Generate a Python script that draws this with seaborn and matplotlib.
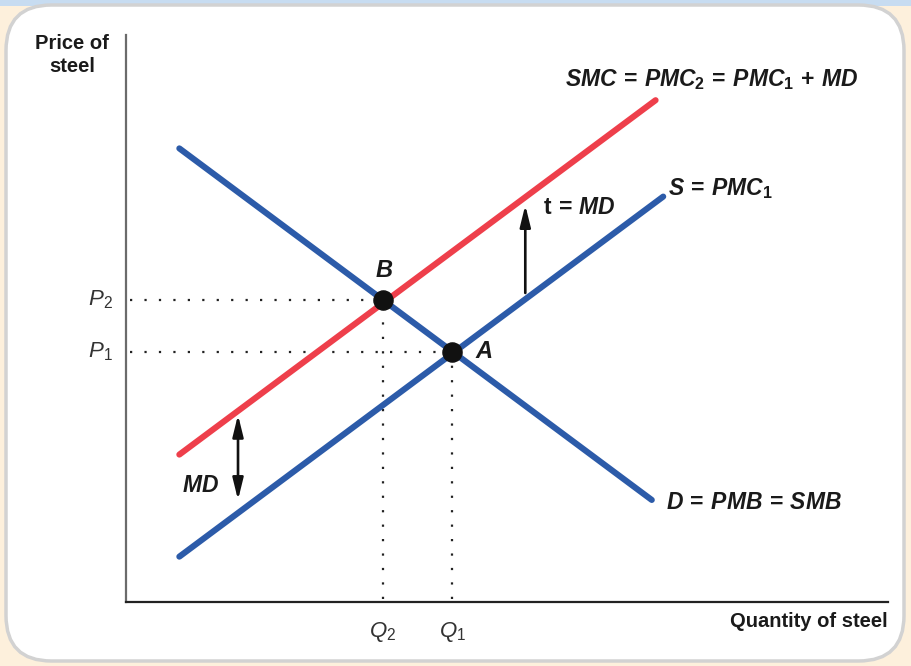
import matplotlib
matplotlib.use('Agg')
import matplotlib.pyplot as plt
from matplotlib.patches import FancyBboxPatch, Rectangle
import seaborn as sns

sns.set_style('white')
plt.rcParams['font.family'] = ['Liberation Sans', 'DejaVu Sans']
plt.rcParams['mathtext.fontset'] = 'custom'
plt.rcParams['mathtext.it'] = 'Liberation Sans:italic:bold'
plt.rcParams['mathtext.rm'] = 'Liberation Sans:bold'
plt.rcParams['mathtext.bf'] = 'Liberation Sans:bold'
plt.rcParams['mathtext.sf'] = 'Liberation Sans:italic'
plt.rcParams['mathtext.tt'] = 'Liberation Sans'

# curves (x from left end to right end)
demand_x = [0.7, 6.9]
demand_y = [8.0, 1.8]
supply_x = [0.7, 7.05]
supply_y = [0.8, 7.15]
smc_x = [0.7, 6.95]
smc_y = [2.6, 8.85]

# equilibria
eq_names = ['A', 'B']
eq_q = [4.28, 3.37]
eq_p = [4.41, 5.33]

# tax arrow and MD arrow
tax_x = 5.24
tax_y = [5.45, 7.0]
md_x = 1.47
md_y = [1.8, 3.3]

BLUE = '#2c5ba9'
RED = '#ee3f4b'

fig = plt.figure(figsize=(9.11, 6.66), dpi=100)
fig.patch.set_facecolor('#fdf0dc')
fig.patches.append(Rectangle((0, 1 - 6 / 666), 1, 6 / 666, transform=fig.transFigure,
                             facecolor='#c7dcf1', edgecolor='none', zorder=0))
fig.patches.append(FancyBboxPatch((6 / 911, 5 / 666), 898 / 911, 656 / 666,
                                  boxstyle='round,pad=0,rounding_size=0.05',
                                  transform=fig.transFigure, facecolor='white',
                                  edgecolor='#d2d2d2', linewidth=2.5, zorder=0.5,
                                  mutation_aspect=911 / 666))

ax = fig.add_axes([126 / 911, 64 / 666, 762 / 911, 567 / 666])
ax.set_zorder(2)
ax.set_facecolor('none')
ax.set_xlim(0, 10)
ax.set_ylim(0, 10)
ax.set_xticks([])
ax.set_yticks([])
for s in ['top', 'right']:
    ax.spines[s].set_visible(False)
ax.spines['left'].set_color('#6b6b6b')
ax.spines['left'].set_linewidth(1.6)
ax.spines['bottom'].set_color('#222222')
ax.spines['bottom'].set_linewidth(1.6)

# dotted guides
dot = (0, (1, 5.5))
for q, p in zip(eq_q, eq_p):
    ax.plot([0.05, q], [p, p], color='#222222', lw=1.6, linestyle=dot, zorder=2)
    ax.plot([q, q], [0.05, p], color='#222222', lw=1.6, linestyle=dot, zorder=2)

sns.lineplot(x=demand_x, y=demand_y, color=BLUE, lw=4.4, ax=ax, zorder=3)
sns.lineplot(x=supply_x, y=supply_y, color=BLUE, lw=4.4, ax=ax, zorder=3)
sns.lineplot(x=smc_x, y=smc_y, color=RED, lw=4.4, ax=ax, zorder=3)
ax.scatter(eq_q, eq_p, s=190, color='#111111', zorder=5)

arrow_kw = dict(arrowstyle='-|>,head_length=1.3,head_width=0.32', color='#111111', lw=1.9,
                shrinkA=0, shrinkB=0)
ax.annotate('', xy=(tax_x, tax_y[1]), xytext=(tax_x, tax_y[0]), arrowprops=arrow_kw, zorder=4)
ax.annotate('', xy=(md_x, md_y[1]), xytext=(md_x, md_y[0]),
            arrowprops=dict(arrow_kw, arrowstyle='<|-|>,head_length=1.3,head_width=0.32'), zorder=4)

tc = '#1a1a1a'
ax.text(-0.71, 10.02, 'Price of\nsteel', ha='center', va='top', fontsize=14.5,
        fontweight='bold', color=tc, linespacing=1.25, clip_on=False)
ax.text(10, -0.35, 'Quantity of steel', ha='right', va='center', fontsize=14.5,
        fontweight='bold', color=tc, clip_on=False)
ax.text(5.76, 9.21, r'$SMC\,=\,PMC_2\,=\,PMC_1\,+\,MD$', fontsize=16.5, color=tc, va='center')
ax.text(7.11, 7.30, r'$S\,=\,PMC_1$', fontsize=16.5, color=tc, va='center')
ax.text(5.47, 6.95, r'$\mathrm{t}\,=\,MD$', fontsize=16.5, color=tc, va='center')
ax.text(7.09, 1.76, r'$D\,=\,PMB\,=\,SMB$', fontsize=16.5, color=tc, va='center')
ax.text(0.73, 2.05, r'$MD$', fontsize=16.5, color=tc, va='center')
ax.text(3.39, 5.84, r'$B$', fontsize=17, color=tc, ha='center', va='center')
ax.text(4.70, 4.41, r'$A$', fontsize=17, color=tc, ha='center', va='center')
for name, q, p in zip(['1', '2'], [eq_q[0], eq_q[1]], [eq_p[0], eq_p[1]]):
    ax.text(-0.17, p, r'$\mathsf{P}_{\mathtt{%s}}$' % name, fontsize=16, color='#333333',
            ha='right', va='center', clip_on=False)
    ax.text(q, -0.53, r'$\mathsf{Q}_{\mathtt{%s}}$' % name, fontsize=16, color='#333333',
            ha='center', va='center', clip_on=False)

fig.savefig('out.png', dpi=100)
